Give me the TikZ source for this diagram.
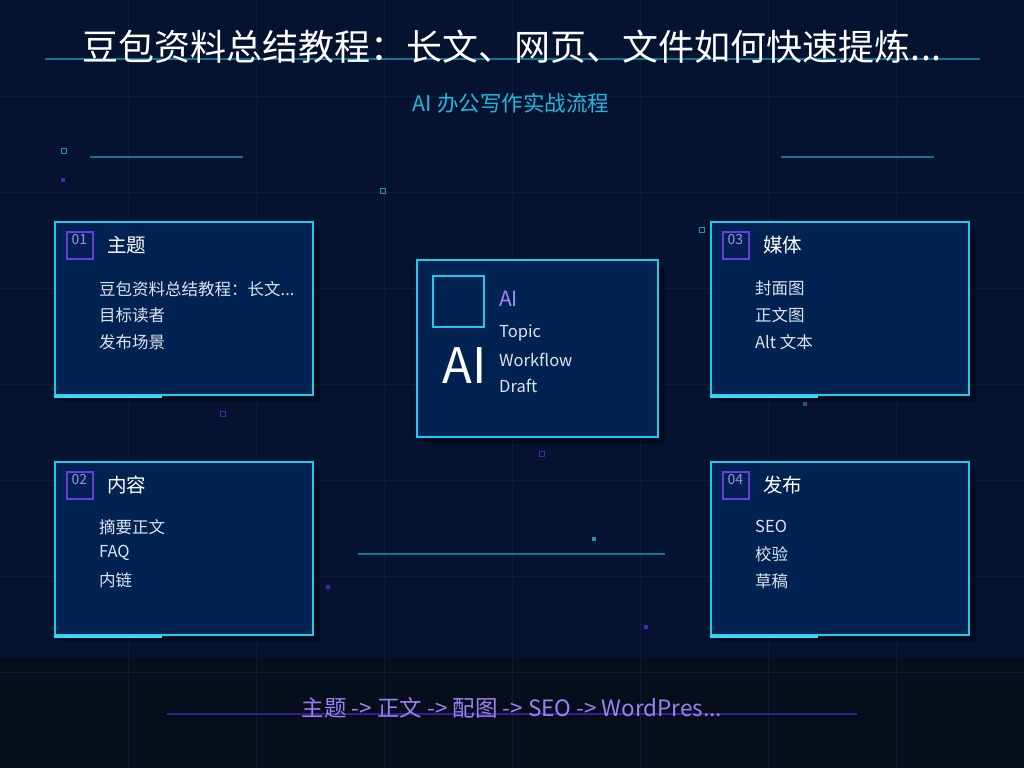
\documentclass[tikz,border=0pt]{standalone}
\usepackage{fontspec}
\setmainfont{Noto Sans CJK SC}
\definecolor{bg}{HTML}{051330}
\definecolor{band}{HTML}{060E1B}
\definecolor{gridc}{HTML}{091D36}
\definecolor{teal}{HTML}{0F7590}
\definecolor{bborder}{HTML}{1FC9EE}
\definecolor{bfill}{HTML}{022352}
\definecolor{accent}{HTML}{3FD4F8}
\definecolor{tagp}{HTML}{6A3CE0}
\definecolor{tagt}{HTML}{9D8CF0}
\definecolor{itemc}{HTML}{DCE3F0}
\definecolor{subc}{HTML}{1FB8E0}
\definecolor{botc}{HTML}{9B82F0}
\definecolor{botl}{HTML}{3B1C8F}
\definecolor{dotp}{HTML}{4A24B8}
\definecolor{dotc}{HTML}{1597B8}
\tikzset{
  card/.style={draw=bborder, line width=2.6pt, fill=bfill, inner sep=0pt},
  tagbox/.style={draw=tagp, line width=1.4pt, minimum width=26pt, minimum height=27pt, inner sep=0pt},
  tagtext/.style={text=tagt, font=\fontsize{14}{16}\selectfont, inner sep=0pt, anchor=north west},
  cardtitle/.style={text=white, font=\fontsize{19.5}{22}\selectfont, inner sep=0pt, anchor=west},
  item/.style={text=itemc, font=\fontsize{16.5}{19}\selectfont, inner sep=0pt, anchor=west},
  deco/.style={teal, line width=2.6pt},
  sqc/.style={draw=dotc, line width=1pt},
  sqp/.style={draw=dotp, line width=1pt},
}
\begin{document}
\begin{tikzpicture}[x=1pt,y=-1pt]
\useasboundingbox (0,0) rectangle (1024,768);
\fill[bg] (0,0) rectangle (1024,768);
\fill[band] (0,658) rectangle (1024,768);
% grid
\foreach \gx in {128,256,384,512,640,768,896} \draw[gridc, line width=0.8pt] (\gx,0) -- (\gx,768);
\foreach \gy in {96,192,288,384,480,576,672} \draw[gridc, line width=0.8pt] (0,\gy) -- (1024,\gy);
% title
\draw[deco] (45,59) -- (980,59);
\node[text=white, font=\fontsize{36}{40}\selectfont, inner sep=0pt] (title) at (512,47) {豆包资料总结教程：长文、网页、文件如何快速提炼...};
\node[text=subc, font=\fontsize{21.5}{25}\selectfont, inner sep=0pt] (sub) at (511,103) {AI 办公写作实战流程};
% decorative lines
\draw[deco] (90,157) -- (243,157);
\draw[deco] (781,157) -- (934,157);
\draw[deco] (358,554) -- (665,554);
% small squares
\draw[sqc] (61,148) rectangle (66,153);
\fill[dotp] (61,178) rectangle (65,182);
\draw[sqc] (380,188) rectangle (385,193);
\draw[sqc] (699,227) rectangle (704,232);
\draw[sqp] (220,411) rectangle (225,416);
\draw[sqp] (539,451) rectangle (544,456);
\fill[dotc] (592,537) rectangle (596,541);
\fill[dotp] (326,585) rectangle (330,589);
\fill[dotp] (644,625) rectangle (648,629);
\fill[dotc!60!bg] (803,402) rectangle (807,406);
% shadows
\foreach \sx/\sy/\w/\h in {55/222/258/173, 55/462/258/173, 711/222/258/173, 711/462/258/173, 417/260/241/177}
  \fill[black, opacity=0.35] (\sx+7,\sy+7) rectangle (\sx+\w+7,\sy+\h+7);
% cards
\node[card, minimum width=258pt, minimum height=173pt] (c1) at (184,308.5) {};
\node[card, minimum width=258pt, minimum height=173pt] (c2) at (184,548.5) {};
\node[card, minimum width=258pt, minimum height=173pt] (c3) at (840,308.5) {};
\node[card, minimum width=258pt, minimum height=173pt] (c4) at (840,548.5) {};
\node[card, minimum width=241pt, minimum height=177pt] (cc) at (537.5,348.5) {};
% accents on bottom edges
\draw[accent, line width=3pt] (c1.south west) -- ++(108,0);
\draw[accent, line width=3pt] (c2.south west) -- ++(108,0);
\draw[accent, line width=3pt] (c3.south west) -- ++(108,0);
\draw[accent, line width=3pt] (c4.south west) -- ++(108,0);
% card 1
\node[tagbox] (t1) at (80,245.5) {};
\node[tagtext] (t1n) at (71.5,234) {01};
\node[cardtitle] (h1) at (107,245) {主题};
\node[item] (i11) at (99,289) {豆包资料总结教程：长文...};
\node[item] (i12) at (99,315) {目标读者};
\node[item] (i13) at (99,342) {发布场景};
% card 2
\node[tagbox] (t2) at (80,485.5) {};
\node[tagtext] (t2n) at (71.5,474) {02};
\node[cardtitle] (h2) at (107,485) {内容};
\node[item] (i21) at (99,527) {摘要正文};
\node[item] (i22) at (99,553) {FAQ};
\node[item] (i23) at (99,580) {内链};
% card 3
\node[tagbox] (t3) at (736,245.5) {};
\node[tagtext] (t3n) at (727.5,234) {03};
\node[cardtitle] (h3) at (763,245) {媒体};
\node[item] (i31) at (755,288) {封面图};
\node[item] (i32) at (755,315) {正文图};
\node[item] (i33) at (755,342) {Alt 文本};
% card 4
\node[tagbox] (t4) at (736,485.5) {};
\node[tagtext] (t4n) at (727.5,474) {04};
\node[cardtitle] (h4) at (763,485) {发布};
\node[item] (i41) at (755,526) {SEO};
\node[item] (i42) at (755,554) {校验};
\node[item] (i43) at (755,581) {草稿};
% center card
\node[draw=bborder, line width=1.8pt, minimum width=51pt, minimum height=51pt, inner sep=0pt] (icon) at (458.5,301.5) {};
\node[text=white, font=\fontsize{49}{52}\selectfont, inner sep=0pt, anchor=west] (big) at (442,366) {AI};
\node[text=tagt, font=\fontsize{21}{24}\selectfont, inner sep=0pt, anchor=west] (ail) at (499,299) {AI};
\node[item] (ct1) at (499,333) {Topic};
\node[item] (ct2) at (499,360) {Workflow};
\node[item] (ct3) at (499,386) {Draft};
% bottom
\draw[botl, line width=2.6pt] (167,714) -- (857,714);
\node[text=botc, font=\fontsize{22.5}{26}\selectfont, inner sep=0pt] (flow) at (512,708) {主题 -> 正文 -> 配图 -> SEO -> WordPres...};
\end{tikzpicture}
\end{document}
